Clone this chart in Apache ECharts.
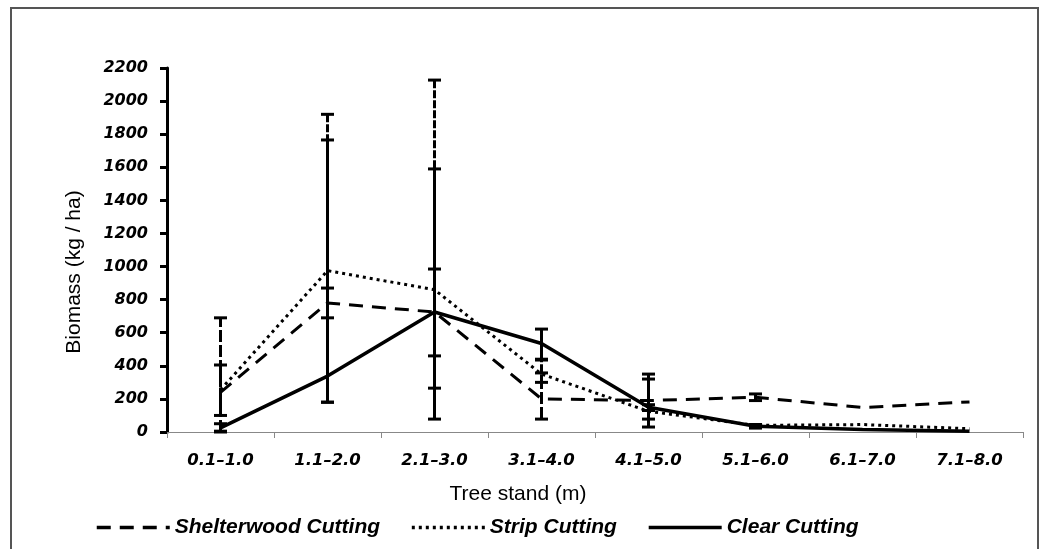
<!DOCTYPE html>
<html>
<head>
<meta charset="utf-8">
<script src="https://cdn.jsdelivr.net/npm/echarts@6/dist/echarts.min.js"></script>
<style>html,body{margin:0;padding:0;background:#fff;}#c{width:1044px;height:549px;}</style>
</head>
<body>
<div id="c"></div>
<script>
var categories = ['0.1–1.0','1.1–2.0','2.1–3.0','3.1–4.0','4.1–5.0','5.1–6.0','6.1–7.0','7.1–8.0'];
var yTicks = {min: 0, max: 2200, interval: 200};

var shelterwood = [240, 780, 725, 200, 190, 210, 148, 182];
var strip       = [255, 975, 860, 350, 125, 40, 45, 20];
var clear       = [25, 338, 725, 535, 150, 35, 15, 5];

// error bar ends [low, high] (null = no bar)
var shelterwoodLow  = [0, 690, 460, 78, 165, 190, null, null];
var shelterwoodHigh = [690, 870, 985, 357, 320, 230, null, null];
var stripLow        = [100, 180, 265, 300, 78, 25, null, null];
var stripHigh       = [405, 1920, 2127, 435, 130, 45, null, null];
var clearLow        = [5, 180, 78, 440, 30, 25, null, null];
var clearHigh       = [50, 1765, 1590, 622, 350, 45, null, null];

function errData(low, high) {
  var out = [];
  for (var i = 0; i < low.length; i++) {
    if (low[i] != null && high[i] != null) out.push([i, low[i], high[i]]);
  }
  return out;
}
function errSeries(name, low, high, dash) {
  return {
    name: name,
    type: 'custom',
    z: 5,
    data: errData(low, high),
    encode: {x: 0, y: [1, 2]},
    renderItem: function (params, api) {
      var lo = api.coord([api.value(0), api.value(1)]);
      var hi = api.coord([api.value(0), api.value(2)]);
      var hw = 6.5;
      var st = {stroke: '#000', lineWidth: 3, lineDash: dash, fill: null};
      var cst = {stroke: '#000', lineWidth: 3, fill: null};
      return {
        type: 'group',
        children: [
          {type: 'line', shape: {x1: lo[0], y1: lo[1], x2: hi[0], y2: hi[1]}, style: st},
          {type: 'line', shape: {x1: hi[0] - hw, y1: hi[1], x2: hi[0] + hw, y2: hi[1]}, style: cst},
          {type: 'line', shape: {x1: lo[0] - hw, y1: lo[1], x2: lo[0] + hw, y2: lo[1]}, style: cst}
        ]
      };
    }
  };
}

var chart = echarts.init(document.getElementById('c'), null, {renderer: 'canvas'});
var tickFont = {fontFamily: 'DejaVu Sans', fontWeight: 'bold', fontStyle: 'italic', color: '#000'};
chart.setOption({
  animation: false,
  backgroundColor: '#fff',
  graphic: [{
    type: 'rect', shape: {x: 11, y: 8, width: 1027, height: 600},
    style: {fill: null, stroke: '#555', lineWidth: 2}, silent: true, z: -1
  }],
  grid: {left: 167, right: 21, top: 68, bottom: 117, containLabel: false},
  legend: {
    data: ['Shelterwood Cutting', 'Strip Cutting', 'Clear Cutting'],
    left: 90, top: 512,
    itemWidth: 73, itemHeight: 14, itemGap: 30,
    itemStyle: {opacity: 0},
    lineStyle: {width: 3.5},
    textStyle: {fontFamily: 'Liberation Sans', fontWeight: 'bold', fontStyle: 'italic', fontSize: 21, color: '#000'}
  },
  xAxis: {
    type: 'category',
    data: categories,
    boundaryGap: true,
    name: 'Tree stand (m)',
    nameLocation: 'middle',
    nameGap: 52,
    nameTextStyle: {fontFamily: 'Liberation Sans', fontSize: 21, color: '#000', padding: [0, 154, 0, 0]},
    axisLine: {lineStyle: {color: '#888', width: 1}},
    axisTick: {show: true, length: 6, lineStyle: {color: '#888', width: 1}},
    axisLabel: Object.assign({fontSize: 16.5, margin: 20}, tickFont),
    splitLine: {show: false}
  },
  yAxis: {
    type: 'value',
    min: yTicks.min, max: yTicks.max, interval: yTicks.interval,
    name: 'Biomass (kg / ha)',
    nameLocation: 'middle',
    nameGap: 82,
    nameTextStyle: {fontFamily: 'Liberation Sans', fontSize: 21, color: '#000', padding: [0, 44, 0, 0]},
    axisLine: {show: true, lineStyle: {color: '#000', width: 3}},
    axisTick: {show: true, length: 7, lineStyle: {color: '#000', width: 3}},
    axisLabel: Object.assign({fontSize: 16, margin: 19, formatter: function (v) { return String(v); }}, tickFont),
    splitLine: {show: false}
  },
  series: [
    {name: 'Shelterwood Cutting', type: 'line', data: shelterwood, symbol: 'none', z: 3,
     lineStyle: {color: '#000', width: 3, type: [14, 9]}, itemStyle: {color: '#000'}},
    {name: 'Strip Cutting', type: 'line', data: strip, symbol: 'none', z: 3,
     lineStyle: {color: '#000', width: 3, type: [3, 4]}, itemStyle: {color: '#000'}},
    {name: 'Clear Cutting', type: 'line', data: clear, symbol: 'none', z: 4,
     lineStyle: {color: '#000', width: 3.5, type: 'solid'}, itemStyle: {color: '#000'}},
    errSeries('errShelter', shelterwoodLow, shelterwoodHigh, [12, 3]),
    errSeries('errStrip', stripLow, stripHigh, [8, 2]),
    errSeries('errClear', clearLow, clearHigh, null)
  ]
});
</script>
</body>
</html>
